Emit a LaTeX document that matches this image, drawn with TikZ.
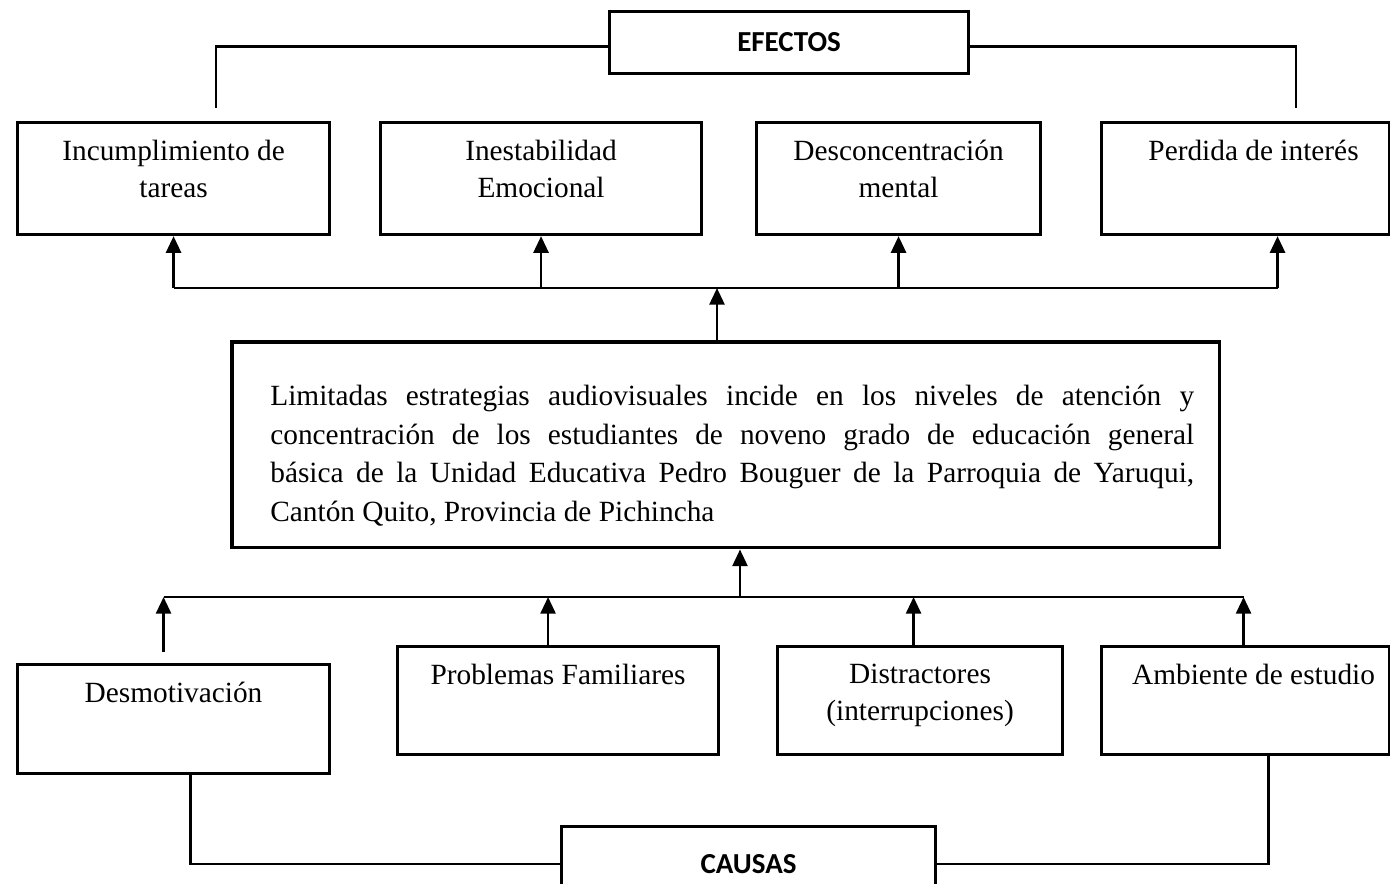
\documentclass[tikz,border=0pt]{standalone}
\usepackage{fontspec}
\setmainfont{Liberation Serif}
\newfontfamily\headfont{Carlito}
\usetikzlibrary{positioning,arrows.meta}

\tikzset{
  box/.style={draw,line width=1.8pt,inner sep=0pt,anchor=north west},
  head/.style={box,font=\headfont\bfseries\fontsize{16.5}{20}\selectfont},
  txt/.style={inner sep=0pt,align=center,font=\fontsize{16.7}{21}\selectfont},
  conn/.style={line width=1.6pt},
  arr/.style={conn,-{Triangle[width=8.5pt,length=9.5pt]}}
}

\begin{document}
\begin{tikzpicture}[x=0.02cm,y=-0.02cm]
  \useasboundingbox (0,0) rectangle (1390,884);
  \clip (0,0) rectangle (1390,884);
  %
  % Effects
  \node[head,minimum width=7.18cm,minimum height=1.24cm] (efectos) at (608,10) {EFECTOS};
  \node[box,minimum width=6.24cm,minimum height=2.24cm] (inc) at (16,121) {};
  \node[box,minimum width=6.42cm,minimum height=2.24cm] (ine) at (379,121) {};
  \node[box,minimum width=5.68cm,minimum height=2.24cm] (des) at (755,121) {};
  \node[box,minimum width=5.76cm,minimum height=2.24cm] (per) at (1100,121) {};
  \node[txt,below=0.38cm of inc.north] (inc-t) {Incumplimiento de\\tareas};
  \node[txt,below=0.38cm of ine.north] (ine-t) {Inestabilidad\\Emocional};
  \node[txt,below=0.38cm of des.north] (des-t) {Desconcentración\\mental};
  \node[txt,below=0.38cm of per.north,xshift=0.16cm] (per-t) {Perdida de interés};
  %
  % Problem
  \node[box,line width=2pt,minimum width=19.76cm,minimum height=4.12cm] (lim) at (230,340) {};
  \node[txt,anchor=north west,below right=0.9cm and 0.8cm of lim.north west,
    text width=18.48cm,align=justify,font=\fontsize{16.7}{21.9}\selectfont] (lim-t)
    {Limitadas estrategias audiovisuales incide en los niveles de atención y\linebreak
     concentración de los estudiantes de noveno grado de educación general\linebreak
     básica de la Unidad Educativa Pedro Bouguer de la Parroquia de Yaruqui,\linebreak
     Cantón Quito, Provincia de Pichincha};
  %
  % Causes
  \node[box,minimum width=6.24cm,minimum height=2.18cm] (dmo) at (16,663) {};
  \node[box,minimum width=6.42cm,minimum height=2.16cm] (pro) at (396,645) {};
  \node[box,minimum width=5.70cm,minimum height=2.16cm] (dis) at (776,645) {};
  \node[box,minimum width=5.76cm,minimum height=2.16cm] (amb) at (1100,645) {};
  \node[head,minimum width=7.48cm,minimum height=1.5cm] (causas) at (560,825) {CAUSAS};
  \node[txt,below=0.38cm of dmo.north] (dmo-t) {Desmotivación};
  \node[txt,below=0.38cm of pro.north] (pro-t) {Problemas Familiares};
  \node[txt,below=0.38cm of dis.north] (dis-t) {Distractores\\(interrupciones)};
  \node[txt,below=0.38cm of amb.north,xshift=0.16cm] (amb-t) {Ambiente de estudio};
  %
  % Links to the headings
  \coordinate (e-left) at (216,108);
  \coordinate (e-right) at (1296,108);
  \draw[conn] ([yshift=-0.08cm]efectos.west) -| (e-left);
  \draw[conn] ([yshift=-0.08cm]efectos.east) -| (e-right);
  \draw[conn] ([xshift=0.34cm]dmo.south) |- (causas.west);
  \draw[conn] ([xshift=0.46cm]amb.south) |- (causas.east);
  %
  % Upper bus
  \coordinate (up-bus) at (717,288);
  \coordinate (per-in) at ([xshift=0.64cm]per.south);
  \draw[conn] (inc.south |- up-bus) -- (per-in |- up-bus);
  \foreach \n in {inc,ine,des}
    \draw[arr] (\n.south |- up-bus) -- (\n.south);
  \draw[arr] (per-in |- up-bus) -- (per-in);
  \draw[arr] (lim.north -| up-bus) -- (up-bus);
  %
  % Lower bus
  \coordinate (low-bus) at (740,597);
  \coordinate (dmo-out) at ([xshift=-0.2cm,yshift=0.22cm]dmo.north);
  \coordinate (pro-out) at ([xshift=-0.2cm]pro.north);
  \coordinate (dis-out) at ([xshift=-0.13cm]dis.north);
  \coordinate (amb-out) at ([xshift=-0.04cm]amb.north);
  \draw[conn] (dmo-out |- low-bus) -- (amb-out |- low-bus);
  \foreach \n in {dmo,pro,dis,amb}
    \draw[arr] (\n-out) -- (\n-out |- low-bus);
  \draw[arr] (low-bus) -- (lim.south -| low-bus);
  %
\end{tikzpicture}
\end{document}
